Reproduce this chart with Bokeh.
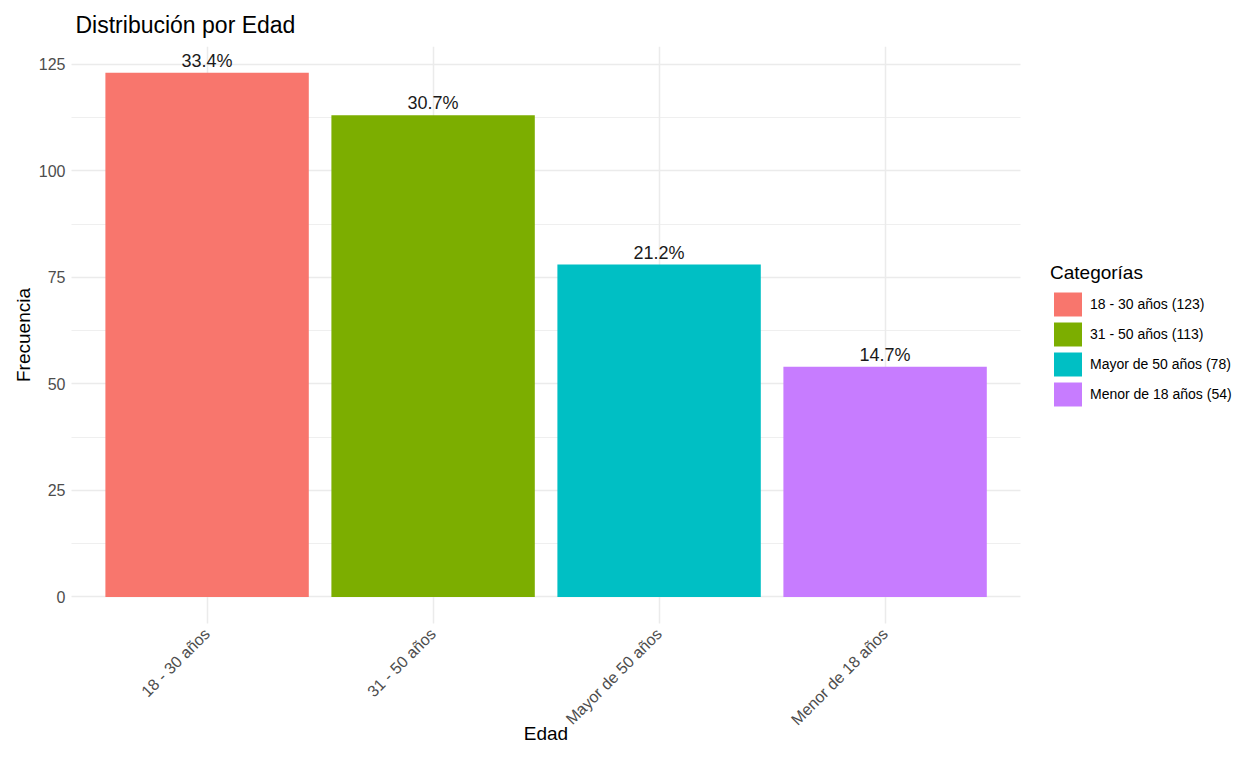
import math
from bokeh.plotting import figure
from bokeh.models import ColumnDataSource, FixedTicker, Range1d, Legend, LegendItem
from bokeh.core.properties import value
from bokeh.embed import file_html
from bokeh.resources import INLINE

categories = ["18 - 30 años", "31 - 50 años", "Mayor de 50 años", "Menor de 18 años"]
counts = [123, 113, 78, 54]
pct_labels = ["33.4%", "30.7%", "21.2%", "14.7%"]
colors = ["#F8766D", "#7CAE00", "#00BFC4", "#C77CFF"]
y_ticks = [0, 25, 50, 75, 100, 125]
y_minor = [12.5, 37.5, 62.5, 87.5, 112.5]

FONT = "Liberation Sans"
xs = list(range(1, len(categories) + 1))
legend_labels = [f"{c} ({n})" for c, n in zip(categories, counts)]

# panel extent in data units (ggplot-style expansion)
X_LO, X_HI = 0.4, 4.6
Y_LO, Y_HI = -6.15, 129.15
PX_X, PX_Y = 226.0, 4.256          # pixels per data unit
FIG_W, FIG_H = 1240, 743
PANEL_LEFT, TOP = 71, 47
x_start = X_LO - PANEL_LEFT / PX_X
x_end = X_LO + (FIG_W - PANEL_LEFT) / PX_X
y_start = Y_HI - (FIG_H - TOP) / PX_Y

src = ColumnDataSource(dict(x=xs, top=counts, color=colors, pct=pct_labels, label=legend_labels))

p = figure(width=FIG_W, height=FIG_H, output_backend="svg", toolbar_location=None,
           x_range=Range1d(x_start, x_end), y_range=Range1d(y_start, Y_HI), min_border=0,
           min_border_left=0, min_border_right=0, min_border_top=39, min_border_bottom=0)
p.outline_line_color = None
p.background_fill_color = "white"
p.border_fill_color = "white"

p.title.text = "Distribución por Edad"
p.title.text_font = FONT
p.title.text_font_size = "23px"
p.title.text_font_style = "normal"
p.title.text_color = "black"
p.title.align = "left"
p.title.standoff = 18
p.title.offset = 75

bars = p.vbar(x="x", top="top", width=0.9, bottom=0, color="color", line_color=None, source=src)
p.text(x="x", y="top", text="pct", source=src, text_align="center", text_baseline="bottom",
       y_offset=-2, text_font=value(FONT), text_font_size="18px", text_color="#1a1a1a")

# axes
p.xaxis.ticker = FixedTicker(ticks=xs)
p.xaxis.major_label_overrides = {x: c for x, c in zip(xs, categories)}
p.xaxis.major_label_orientation = math.pi / 4
p.xaxis.fixed_location = Y_LO
p.xaxis.bounds = (X_LO, X_HI)
p.yaxis.ticker = FixedTicker(ticks=y_ticks, minor_ticks=y_minor)
p.yaxis.fixed_location = X_LO
p.yaxis.bounds = (Y_LO, Y_HI)
for ax in (p.xaxis, p.yaxis):
    ax.axis_line_color = None
    ax.major_tick_line_color = None
    ax.minor_tick_line_color = None
    ax.major_tick_out = 0
    ax.major_tick_in = 0
    ax.major_label_text_font = FONT
    ax.major_label_text_font_size = "16px"
    ax.major_label_text_color = "#4D4D4D"
    ax.axis_label_text_font = FONT
    ax.axis_label_text_font_size = "19px"
    ax.axis_label_text_font_style = "normal"
    ax.axis_label_text_color = "black"
p.xaxis.major_label_standoff = 8
p.yaxis.major_label_standoff = 2
p.xaxis.axis_label = "Edad"
p.yaxis.axis_label = "Frecuencia"
p.xaxis.axis_label_standoff = -15
p.yaxis.axis_label_standoff = 2

p.xgrid.ticker = FixedTicker(ticks=xs)
p.xgrid.grid_line_color = "#EBEBEB"
p.xgrid.grid_line_width = 1.5
p.xgrid.cross_bounds = (Y_LO, Y_HI)
p.ygrid.grid_line_color = "#EBEBEB"
p.ygrid.grid_line_width = 1.5
p.ygrid.minor_grid_line_color = "#EBEBEB"
p.ygrid.minor_grid_line_width = 0.8
p.ygrid.cross_bounds = (X_LO, X_HI)

items = [LegendItem(label=lab, renderers=[bars], index=i) for i, lab in enumerate(legend_labels)]
legend = Legend(items=items, location=(1050, 334), orientation="vertical",
                title="Categorías", title_text_font=FONT, title_text_font_size="19px",
                title_text_font_style="normal", title_text_color="black", title_standoff=5,
                label_text_font=FONT, label_text_font_size="14px", label_text_color="black",
                glyph_width=35, glyph_height=30, spacing=0, padding=0, margin=0,
                label_standoff=5, border_line_color=None, background_fill_alpha=0)
p.add_layout(legend, "center")

open("out.html", "w").write(file_html(p, INLINE))
